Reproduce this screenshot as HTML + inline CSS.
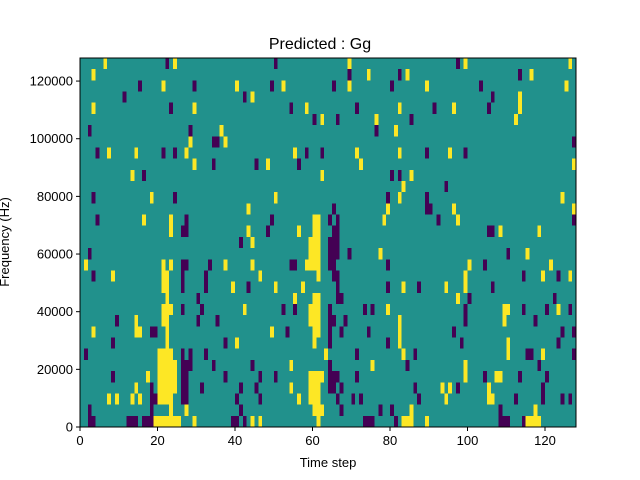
<!DOCTYPE html>
<html><head><meta charset="utf-8"><style>
html,body{margin:0;padding:0;background:#fff;width:640px;height:480px;overflow:hidden}
text{font-family:"Liberation Sans","DejaVu Sans",sans-serif;fill:#000}
</style></head><body>
<svg id="chart" width="640" height="480" xmlns="http://www.w3.org/2000/svg">
<rect width="640" height="480" fill="#fff"/>
<g id="cells"></g>
<rect x="80" y="58" width="496" height="369" fill="none" stroke="#000" stroke-width="1"/>
<g id="xticks"></g>
<g id="yticks"></g>
<text x="320" y="49" font-size="16" text-anchor="middle">Predicted : Gg</text>
<text x="328" y="467" font-size="13" text-anchor="middle">Time step</text>
<text x="9" y="242" font-size="13" text-anchor="middle" transform="rotate(-90 9 242)">Frequency (Hz)</text>
</svg>
<script>
const xTickLabels = [0, 20, 40, 60, 80, 100, 120];
const yTickLabels = [0, 20000, 40000, 60000, 80000, 100000, 120000];
const nSteps = 128;
const nBins = 33;
const maxFreq = 128000;
// rows listed from the highest frequency bin (top) to lowest (bottom); y = high, p = low
const rowCells = [
"y6 p22 y24 p50 y69 p97 y99 y126",
"y3 p69 y74 p82 y84 p113 y116",
"p15 y21 p29 y40 p49 y52 p65 y69 p80 y89 p103 y125",
"p11 p42 y44 p106 y113",
"y3 p23 y29 p54 y58 p71 y82 p91 y96 p105 y113",
"p60 y62 p66 y76 p85 y112",
"p2 p28 y36 p76 y81",
"y28 p34-35 y37 p127",
"p4 y7 y14 p21 p24 y27 y55 p58 p62 y71 y82 p89 y95 p99",
"y29 p34 p45 y48 p56 y72 y127",
"y13 p16 y62 p80 p82 y85",
"y83 p94",
"p3 y18 p24 y50 p79 y82 p89 y124",
"y43 p65 y79 p89-90 y96 y127",
"p4 y16 y23 p27 p49 y60-61 p64 p66 y78 p92 y97 p127",
"y23 p26-27 y43 p48 y56 y60-61 p65-66 p105-106 y108 y118",
"p41 y44 y59-61 p64-66",
"p2 y59-61 p64-66 p69 y77 p110 y115",
"y1 y21 y23 p26-27 p33 y37 y44 p54-55 y58-61 p64-65 p79 y100 p104 y121",
"p3 y8 y21-22 p26 p32 y46 y61 p65-66 y99 p114 y119 p123 y126",
"y21-22 p26 p32 y39 p43 y50 y57 p66 p79 y83 p87 y94 y99 p106",
"y22 p30 y55 y60-61 p66-67 y97 p100 p122",
"y21-23 p26 p31 y42 p52 p55 y59-61 p64 p73 p75 y79 p99 y109-110 p114 p120 y123 p126",
"p9 y14 y21-22 p30 p35 y59-61 p64-65 p68 y82 p99 y109 p117",
"y3 y14-15 p18-19 y22 y49 p53 y60-61 p64 p67 p74 y82 p96 p124 p127",
"p8 y22 p37 y40 y60 p64 p79 y82 p98 y110 p123",
"p1 y20-23 p26 p28 p32 y63 p71 y83 p86 y110 p115-116 y119 p127",
"y20-24 p26-28 p34 p44 y54 p64 y75 p84 y99 p118",
"p8 y17 y20-24 p26-27 p37 p46 p50 y59-62 p64-66 p71 y99 p104 y107 y108 p113 p120",
"y14 p18 y20-24 p26-27 p31 p41 p45 y54 y59-61 p64-65 p67 p86 y93 y95 p97 y105 p119",
"y7 y9 y13 y15 p18-19 y20-23 p26-27 p40 p46 y56 y59-61 p66 p70 p72 p87 y94 y105-106 p112 p119 p124 p126",
"p2 p18 y23 y27 p41 y60-62 p67 p77 p80 y85 p108 y117",
"p2-3 p12-14 p16-18 y19-25 y29 p39-40 p42 y44 y46 y61 p73-75 p81 y83-85 y89 p108-110 p114 y115-118"
];
const NS = "http://www.w3.org/2000/svg";
const X0 = 80, X1 = 576, Y0 = 427, Y1 = 58;
function xs(t){ return X0 + t / nSteps * (X1 - X0); }
function ys(f){ return Y0 - f / maxFreq * (Y0 - Y1); }
const colors = {y: "#fde725", p: "#440154"};
const cells = document.getElementById("cells");
const bg = document.createElementNS(NS, "rect");
bg.setAttribute("x", X0); bg.setAttribute("y", Y1);
bg.setAttribute("width", X1 - X0); bg.setAttribute("height", Y0 - Y1);
bg.setAttribute("fill", "#21918c");


cells.appendChild(bg);
const binW = maxFreq / nBins;
rowCells.forEach(function(row, i){
  const bin = nBins - 1 - i;
  const yTop = ys((bin + 1) * binW), yBot = ys(bin * binW);
  row.split(" ").forEach(function(tok){
    if (!tok) return;
    const kind = tok[0];
    const parts = tok.slice(1).split("-").map(Number);
    const a = parts[0], b = parts.length > 1 ? parts[1] : parts[0];
    const r = document.createElementNS(NS, "rect");
    const xa = xs(a), xb = xs(b + 1);
    r.setAttribute("x", xa.toFixed(2));
    r.setAttribute("y", yTop.toFixed(2));
    r.setAttribute("width", (xb - xa).toFixed(2));
    r.setAttribute("height", (yBot - yTop).toFixed(2));
    r.setAttribute("fill", colors[kind]);
    r.setAttribute("shape-rendering", "crispEdges");
    
    
    cells.appendChild(r);
  });
});
const xg = document.getElementById("xticks");
xTickLabels.forEach(function(v){
  const x = xs(v);
  const l = document.createElementNS(NS, "line");
  l.setAttribute("x1", x); l.setAttribute("x2", x);
  l.setAttribute("y1", Y0); l.setAttribute("y2", Y0 + 4);
  l.setAttribute("stroke", "#000");
  
  
  xg.appendChild(l);
  const t = document.createElementNS(NS, "text");
  t.setAttribute("x", x); t.setAttribute("y", Y0 + 18);
  t.setAttribute("font-size", "13"); t.setAttribute("text-anchor", "middle");
  t.textContent = v;
  
  
  xg.appendChild(t);
});
const yg = document.getElementById("yticks");
yTickLabels.forEach(function(v){
  const y = ys(v);
  const l = document.createElementNS(NS, "line");
  l.setAttribute("x1", X0 - 4); l.setAttribute("x2", X0);
  l.setAttribute("y1", y); l.setAttribute("y2", y);
  l.setAttribute("stroke", "#000");
  
  
  yg.appendChild(l);
  const t = document.createElementNS(NS, "text");
  t.setAttribute("x", X0 - 7); t.setAttribute("y", y + 4.5);
  t.setAttribute("font-size", "13"); t.setAttribute("text-anchor", "end");
  t.textContent = v;
  
  
  yg.appendChild(t);
});
</script>
</body></html>
